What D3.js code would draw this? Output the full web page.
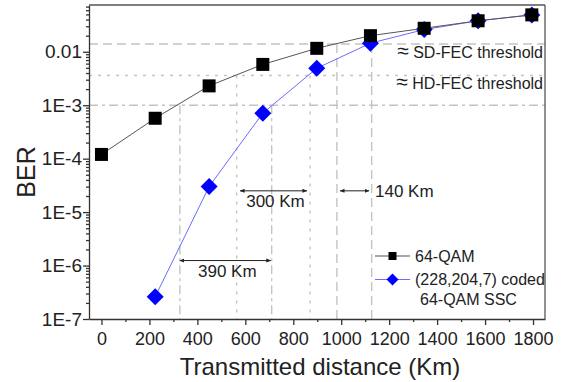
<!DOCTYPE html>
<html>
<head>
<meta charset="utf-8">
<script src="https://cdn.jsdelivr.net/npm/d3@7"></script>
<style>
body { margin: 0; background: #fff; }
text { font-family: "Liberation Sans", Arial, sans-serif; fill: #222; }
</style>
</head>
<body>
<svg id="my_container" width="562" height="382"></svg>
<script>
// distances (km) and BER
var distances = [0, 224, 449, 673, 898, 1122, 1346, 1571, 1795];
var ber_qam = [1.2e-4, 5.7e-4, 2.3e-3, 5.8e-3, 0.0116, 0.020, 0.0275, 0.038, 0.049];
var ber_ssc = [null, 2.6e-7, 3.0e-5, 7.1e-4, 4.9e-3, 0.0145, 0.026, 0.038, 0.049];

var x_ticks = [0, 200, 400, 600, 800, 1000, 1200, 1400, 1600, 1800];
var y_ticks = [1e-7, 1e-6, 1e-5, 1e-4, 1e-3, 0.01];
var y_tick_labels = ["1E-7", "1E-6", "1E-5", "1E-4", "1E-3", "0.01"];

// thresholds and where each curve crosses them (km)
var threshold_values = [0.014, 3.6e-3, 1e-3];
var threshold_labels = ["SD-FEC threshold", "HD-FEC threshold", ""];
var threshold_dash = ["9,5", "3,6", "9,4,3,4"];
var cross_qam = [982, 564, 327];
var cross_ssc = [1127, 870, 710];

// gain arrows: from km, to km, BER level, label
var arrow_from = [578, 995, 327];
var arrow_to = [857, 1116, 706];
var arrow_level = [2.5e-5, 2.5e-5, 1.24e-6];
var arrow_labels = ["300 Km", "140 Km", "390 Km"];

var margin = {top: 5, right: 17, bottom: 63, left: 89};
var width = 562 - margin.left - margin.right;
var height = 382 - margin.top - margin.bottom;

var svg = d3.select("#my_container");

svg.append("defs").append("marker")
    .attr("id", "head")
    .attr("viewBox", "0 0 10 10")
    .attr("refX", 9)
    .attr("refY", 5)
    .attr("markerWidth", 5)
    .attr("markerHeight", 5)
    .attr("orient", "auto-start-reverse")
    .append("path")
    .attr("d", "M0,1 L10,5 L0,9 Z")
    .attr("fill", "#222");

var g = svg.append("g")
    .attr("transform", "translate(" + margin.left + "," + margin.top + ")");

var xScale = d3.scaleLinear()
    .domain([-52, 1850])
    .range([0, width]);

var yScale = d3.scaleLog()
    .domain([1e-7, 0.075])
    .range([height, 0]);

// threshold lines
threshold_values.forEach(function(v, i){
    g.append("line")
        .attr("x1", 0)
        .attr("x2", width)
        .attr("y1", yScale(v))
        .attr("y2", yScale(v))
        .attr("stroke", "#c4c4c4")
        .attr("stroke-width", 1.4)
        .attr("stroke-dasharray", threshold_dash[i]);

    [cross_qam[i], cross_ssc[i]].forEach(function(km){
        g.append("line")
            .attr("x1", xScale(km))
            .attr("x2", xScale(km))
            .attr("y1", yScale(v))
            .attr("y2", height)
            .attr("stroke", "#c4c4c4")
            .attr("stroke-width", 1.4)
            .attr("stroke-dasharray", threshold_dash[i]);
    });

    if (threshold_labels[i] != "") {
        var t = g.append("text")
            .attr("x", width - 2)
            .attr("y", yScale(v) + 14)
            .attr("text-anchor", "end")
            .attr("font-size", "16px");
        t.append("tspan").attr("font-size", "21px").text("\u2248");
        t.append("tspan").text(" " + threshold_labels[i]);
    }
});

// arrows
arrow_labels.forEach(function(lab, i){
    var ay = yScale(arrow_level[i]);
    g.append("line")
        .attr("x1", xScale(arrow_from[i]))
        .attr("x2", xScale(arrow_to[i]))
        .attr("y1", ay)
        .attr("y2", ay)
        .attr("stroke", "#222")
        .attr("stroke-width", 1)
        .attr("marker-start", "url(#head)")
        .attr("marker-end", "url(#head)");

    if (i == 1) {
        g.append("text")
            .attr("x", xScale(arrow_to[i]) + 6)
            .attr("y", ay + 6)
            .attr("font-size", "17px")
            .text(lab);
    } else {
        g.append("text")
            .attr("x", (xScale(arrow_from[i]) + xScale(arrow_to[i])) / 2 + 2)
            .attr("y", ay + 16)
            .attr("text-anchor", "middle")
            .attr("font-size", "17px")
            .text(lab);
    }
});

// series
var qam = distances.map(function(d, i){ return {x: d, y: ber_qam[i]}; });
var ssc = distances.map(function(d, i){ return {x: d, y: ber_ssc[i]}; })
    .filter(function(d){ return d.y != null; });

var line = d3.line()
    .x(function(d){ return xScale(d.x); })
    .y(function(d){ return yScale(d.y); });

g.append("path")
    .datum(ssc)
    .attr("d", line)
    .attr("fill", "none")
    .attr("stroke", "#6b6bff")
    .attr("stroke-width", 1);

g.selectAll(".diamond")
    .data(ssc)
    .enter()
    .append("path")
    .attr("class", "diamond")
    .attr("d", "M0,-8.5 L8.5,0 L0,8.5 L-8.5,0 Z")
    .attr("transform", function(d){
        return "translate(" + xScale(d.x) + "," + yScale(d.y) + ")";
    })
    .attr("fill", "#0000ff");

g.append("path")
    .datum(qam)
    .attr("d", line)
    .attr("fill", "none")
    .attr("stroke", "#555")
    .attr("stroke-width", 1);

g.selectAll(".square")
    .data(qam)
    .enter()
    .append("rect")
    .attr("class", "square")
    .attr("x", function(d){ return xScale(d.x) - 6.5; })
    .attr("y", function(d){ return yScale(d.y) - 6.5; })
    .attr("width", 13)
    .attr("height", 13)
    .attr("fill", "#000");

// axes
var x_minor = d3.range(100, 1800, 200);
var y_minor = [];
y_ticks.forEach(function(t){
    for (var k = 2; k <= 9; k++) {
        if (t * k < 0.075) y_minor.push(t * k);
    }
});

var xAxis = g.append("g")
    .attr("transform", "translate(0," + height + ")")
    .call(d3.axisBottom(xScale).tickValues(x_ticks).tickSize(6).tickPadding(7).tickSizeOuter(0)
        .tickFormat(d3.format("d")));
g.append("g")
    .attr("transform", "translate(0," + height + ")")
    .call(d3.axisBottom(xScale).tickValues(x_minor).tickSize(3).tickFormat("").tickSizeOuter(0))
    .select(".domain").remove();

var yAxis = g.append("g")
    .call(d3.axisLeft(yScale).tickValues(y_ticks).tickSize(6).tickPadding(1).tickSizeOuter(0)
        .tickFormat(function(d, i){ return y_tick_labels[i]; }));
g.append("g")
    .call(d3.axisLeft(yScale).tickValues(y_minor).tickSize(3).tickFormat("").tickSizeOuter(0))
    .select(".domain").remove();

xAxis.selectAll(".tick text").attr("font-size", "18px");
yAxis.selectAll(".tick text").attr("font-size", "19px");
g.selectAll(".tick text")
    .attr("font-family", "Liberation Sans, Arial, sans-serif")
    .attr("fill", "#222");
g.selectAll(".domain, .tick line")
    .attr("stroke", "#333")
    .attr("stroke-width", 1.3);

// frame top and right
g.append("line")
    .attr("x1", 0).attr("x2", width)
    .attr("y1", 0).attr("y2", 0)
    .attr("stroke", "#555").attr("stroke-width", 1.3);
g.append("line")
    .attr("x1", width).attr("x2", width)
    .attr("y1", 0).attr("y2", height)
    .attr("stroke", "#555").attr("stroke-width", 1.3);

// axis titles
svg.append("text")
    .attr("x", margin.left + width / 2 + 3)
    .attr("y", 375)
    .attr("text-anchor", "middle")
    .attr("font-size", "24px")
    .text("Transmitted distance (Km)");

svg.append("text")
    .attr("transform", "translate(35,172) rotate(-90)")
    .attr("text-anchor", "middle")
    .attr("font-size", "25px")
    .text("BER");

// legend
var legend = svg.append("g").attr("transform", "translate(375,256)");
legend.append("line")
    .attr("x1", 0).attr("x2", 35).attr("y1", 0).attr("y2", 0)
    .attr("stroke", "#555").attr("stroke-width", 1);
legend.append("rect")
    .attr("x", 13.5).attr("y", -4).attr("width", 8).attr("height", 8)
    .attr("fill", "#000");
legend.append("text")
    .attr("x", 40).attr("y", 5.5)
    .attr("font-size", "16px")
    .text("64-QAM");

legend.append("line")
    .attr("x1", 0).attr("x2", 35).attr("y1", 23.5).attr("y2", 23.5)
    .attr("stroke", "#6b6bff").attr("stroke-width", 1);
legend.append("path")
    .attr("d", "M17.5,17.5 L23.5,23.5 L17.5,29.5 L11.5,23.5 Z")
    .attr("fill", "#0000ff");
legend.append("text")
    .attr("x", 40).attr("y", 29)
    .attr("font-size", "16px")
    .text("(228,204,7) coded");
legend.append("text")
    .attr("x", 45).attr("y", 49)
    .attr("font-size", "16px")
    .text("64-QAM SSC");
</script>
</body>
</html>
